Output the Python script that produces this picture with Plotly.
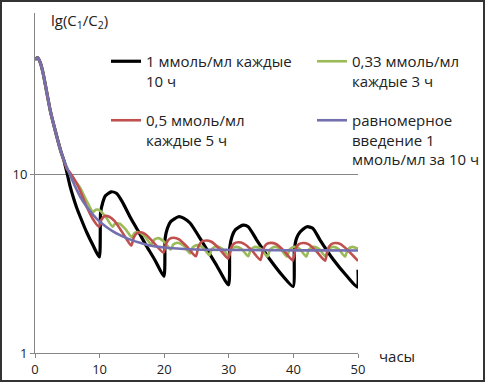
import plotly.graph_objects as go

# ---- data ----
t_black = [0, 0.4, 0.8, 1.2, 1.7, 2.4, 3.3, 4.0, 4.5, 4.9, 5.4, 5.9, 6.4, 7, 8, 9, 9.95,
           10.15, 10.5, 10.9, 11.8, 12.6, 13.5, 14.7, 16, 17.3, 18.6, 19.95,
           20.15, 20.5, 21, 22.2, 23, 24, 26, 28, 29.95,
           30.15, 30.5, 31, 32.2, 33, 34.3, 36.4, 38.4, 39.95,
           40.15, 40.5, 41, 42.1, 43, 44.1, 46.2, 48.3, 49.9, 50]
v_black = [44, 45.2, 42.5, 37.7, 30.5, 22.5, 16.7, 13.5, 11.9, 10.4, 8.7, 7.5, 6.6, 5.8, 4.75, 4.0, 3.45,
           6.1, 7.0, 7.6, 8.0, 7.85, 7.05, 5.8, 4.8, 3.95, 3.3, 2.69,
           4.4, 5.0, 5.45, 5.8, 5.7, 5.35, 4.13, 3.15, 2.41,
           3.9, 4.5, 4.9, 5.2, 5.1, 4.31, 3.33, 2.69, 2.36,
           3.8, 4.4, 4.75, 5.1, 5.0, 4.31, 3.33, 2.69, 2.34, 2.93]

t_green = [0, 0.4, 0.8, 1.2, 1.7, 2.4, 3.3, 4.0, 4.5, 5, 5.5, 6.0, 6.4, 7, 8, 9.0,
           9.4, 10, 11, 12, 12.4, 13.1, 14, 15, 15.4, 16.1, 17, 18, 18.4, 19.1, 20, 21,
           21.4, 22.1, 23, 24, 24.4, 25.1, 26, 27, 27.4, 28.1, 29, 30,
           30.4, 31.1, 32, 33, 33.4, 34.1, 35, 36, 36.4, 37.1, 38, 39,
           39.4, 40.1, 41, 42, 42.4, 43.1, 44, 45, 45.4, 46.1, 47, 48, 48.4, 49.1, 50]
v_green = [44, 45.2, 42.5, 37.7, 30.5, 22.5, 16.7, 13.5, 11.9, 10.8, 9.9, 9.15, 9.0, 8.4, 7.1, 6.15,
           6.35, 6.3, 5.75, 5.1, 5.3, 5.3, 4.95, 4.45, 4.7, 4.75, 4.5, 4.05, 4.3, 4.4, 4.2, 3.8,
           4.05, 4.15, 4.0, 3.62, 3.9, 4.02, 3.9, 3.53, 3.83, 3.96, 3.84, 3.5,
           3.8, 3.93, 3.82, 3.48, 3.8, 3.93, 3.82, 3.47, 3.8, 3.93, 3.82, 3.47,
           3.8, 3.93, 3.82, 3.47, 3.8, 3.93, 3.82, 3.47, 3.8, 3.93, 3.82, 3.47, 3.8, 3.93, 3.84]

t_red = [0, 0.4, 0.8, 1.2, 1.7, 2.4, 3.3, 4.0, 4.5, 4.95, 5.3, 5.8, 6.4, 7, 8, 9, 9.9,
         10.3, 10.8, 11.5, 12.3, 13.1, 14, 14.9,
         15.3, 15.8, 16.4, 17.2, 18.5, 19.9,
         20.3, 20.8, 21.5, 22.3, 23.5, 24.9,
         25.3, 25.8, 26.5, 27.3, 28.5, 29.9,
         30.3, 30.8, 31.5, 32.3, 33.5, 34.9,
         35.3, 35.8, 36.5, 37.3, 38.5, 39.9,
         40.3, 40.8, 41.5, 42.3, 43.5, 44.9,
         45.3, 45.8, 46.5, 47.3, 48.5, 50]
v_red = [44, 45.2, 42.5, 37.7, 30.5, 22.5, 16.7, 13.5, 11.9, 10.7, 10.4, 9.8, 9.0, 8.1, 6.6, 5.6, 5.1,
         5.6, 5.85, 5.8, 5.5, 5.0, 4.45, 4.0,
         4.45, 4.7, 4.75, 4.6, 4.1, 3.65,
         4.1, 4.35, 4.42, 4.33, 3.95, 3.48,
         3.95, 4.2, 4.27, 4.2, 3.85, 3.38,
         3.85, 4.1, 4.17, 4.1, 3.78, 3.32,
         3.8, 4.07, 4.14, 4.08, 3.75, 3.3,
         3.8, 4.06, 4.13, 4.07, 3.74, 3.29,
         3.79, 4.05, 4.13, 4.07, 3.74, 3.28]

t_purple = [0, 0.4, 0.8, 1.2, 1.7, 2.4, 3.3, 4.0, 4.5, 5.0, 5.5, 6, 7, 8, 9, 10, 11, 12, 13, 14,
            15, 16, 17, 18, 20, 22, 25, 30, 35, 40, 45, 50]
v_purple = [44, 45.2, 42.5, 37.7, 30.5, 22.5, 16.7, 13.5, 12.0, 10.8, 9.8, 8.9, 7.5, 6.6, 5.95, 5.45,
            5.1, 4.82, 4.6, 4.43, 4.29, 4.17, 4.07, 3.99, 3.9, 3.85, 3.8, 3.78, 3.77, 3.76, 3.76, 3.75]

names = ["1 ммоль/мл каждые<br>10 ч",
         "0,33 ммоль/мл<br>каждые 3 ч",
         "0,5 ммоль/мл<br>каждые 5 ч",
         "равномерное<br>введение 1<br>ммоль/мл за 10 ч"]

x_ticks = [0, 10, 20, 30, 40, 50]
y_ticks = [1, 10]

FONT = "Open Sans"

fig = go.Figure()
series = [
    (t_black, v_black, names[0], "#000000", 3.2, "legend", "g1"),
    (t_green, v_green, names[1], "#9BBB59", 2.6, "legend2", "g2"),
    (t_red, v_red, names[2], "#C0504D", 2.6, "legend", "g3"),
    (t_purple, v_purple, names[3], "#7470B0", 2.6, "legend2", "g4"),
]
for tx, vy, nm, col, lw, leg, grp in series:
    fig.add_trace(go.Scatter(
        x=tx, y=vy, name=nm, mode="lines",
        line=dict(color=col, width=lw, shape="spline", smoothing=0.6),
        legend=leg, legendgroup=grp,
    ))

W, H = 485, 382
ML, MR, MT, MB = 35, 127, 13, 29
pw, ph = W - ML - MR, H - MT - MB

def px(x):
    return (x - ML) / pw

def py(y):
    return (H - MB - y) / ph

legfont = dict(family=FONT, size=15, color="#222222")
fig.update_layout(
    width=W, height=H,
    margin=dict(l=ML, r=MR, t=MT, b=MB, autoexpand=False),
    paper_bgcolor="white", plot_bgcolor="white",
    font=dict(family=FONT, size=13, color="#222222"),
    legend=dict(x=px(106), y=py(45), xanchor="left", yanchor="top",
                bgcolor="rgba(0,0,0,0)", valign="top", tracegroupgap=17,
                font=legfont),
    legend2=dict(x=px(312), y=py(45), xanchor="left", yanchor="top",
                 bgcolor="rgba(0,0,0,0)", valign="top", tracegroupgap=17,
                 font=legfont),
    xaxis=dict(range=[0, 50], tickvals=x_ticks, ticks="outside", ticklen=4,
               tickcolor="#868686", showline=True, linecolor="#868686", linewidth=1,
               showgrid=False, zeroline=False, tickfont=dict(size=13), automargin=False),
    yaxis=dict(type="log", range=[0, 1.905], tickvals=y_ticks, ticktext=["1", "10"],
               ticks="outside", ticklen=4, tickcolor="#868686",
               showline=True, linecolor="#868686", linewidth=1,
               showgrid=True, gridcolor="#868686", gridwidth=1,
               zeroline=False, tickfont=dict(size=13), automargin=False),
    annotations=[
        dict(text="lg(C<sub>1</sub>/C<sub>2</sub>)", x=px(49), y=py(21), xref="paper", yref="paper",
             xanchor="left", yanchor="middle", showarrow=False, font=dict(size=15)),
        dict(text="часы", x=px(397), y=py(356), xref="paper", yref="paper",
             xanchor="center", yanchor="middle", showarrow=False, font=dict(size=15)),
    ],
    shapes=[
        dict(type="rect", xref="paper", yref="paper",
             x0=px(1), x1=px(484), y0=py(381), y1=py(1),
             line=dict(color="#333333", width=2)),
    ],
)

fig.write_html("out.html", config={"displayModeBar": False},
               post_script="document.body.style.margin='0';document.body.style.overflow='hidden';")
